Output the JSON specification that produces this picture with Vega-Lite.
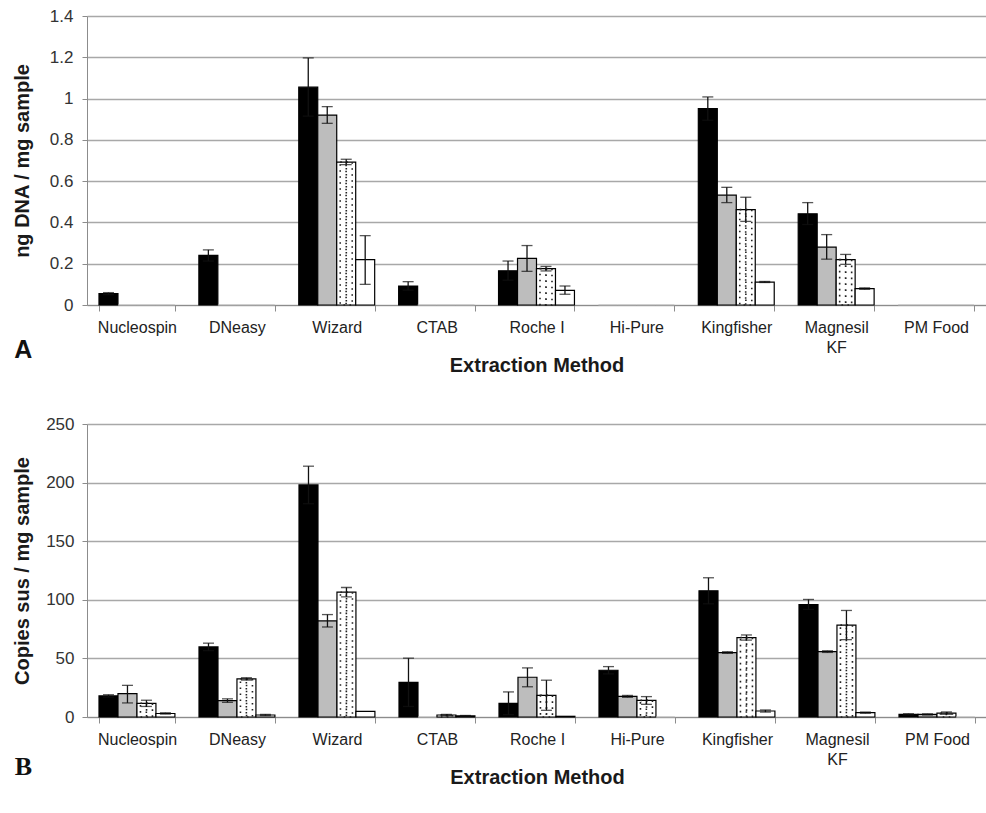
{
  "$schema": "https://vega.github.io/schema/vega-lite/v6.json",
  "padding": {"left": 12, "top": 7, "right": 0, "bottom": 0},
  "columns": 1,
  "spacing": 40,
  "datasets": {
    "a": [
      {"m": "Nucleospin", "s": "1", "v": 0.055, "lo": 0.05, "hi": 0.06},
      {"m": "Nucleospin", "s": "2", "v": 0},
      {"m": "Nucleospin", "s": "3", "v": 0},
      {"m": "Nucleospin", "s": "4", "v": 0},
      {"m": "DNeasy", "s": "1", "v": 0.24, "lo": 0.213, "hi": 0.267},
      {"m": "DNeasy", "s": "2", "v": 0},
      {"m": "DNeasy", "s": "3", "v": 0},
      {"m": "DNeasy", "s": "4", "v": 0},
      {"m": "Wizard", "s": "1", "v": 1.055, "lo": 0.915, "hi": 1.197},
      {"m": "Wizard", "s": "2", "v": 0.92, "lo": 0.88, "hi": 0.961},
      {"m": "Wizard", "s": "3", "v": 0.692, "lo": 0.68, "hi": 0.706},
      {"m": "Wizard", "s": "4", "v": 0.22, "lo": 0.1, "hi": 0.336},
      {"m": "CTAB", "s": "1", "v": 0.092, "lo": 0.072, "hi": 0.113},
      {"m": "CTAB", "s": "2", "v": 0},
      {"m": "CTAB", "s": "3", "v": 0},
      {"m": "CTAB", "s": "4", "v": 0},
      {"m": "Roche I", "s": "1", "v": 0.166, "lo": 0.12, "hi": 0.213},
      {"m": "Roche I", "s": "2", "v": 0.226, "lo": 0.163, "hi": 0.288},
      {"m": "Roche I", "s": "3", "v": 0.176, "lo": 0.165, "hi": 0.187},
      {"m": "Roche I", "s": "4", "v": 0.071, "lo": 0.052, "hi": 0.092},
      {"m": "Hi-Pure", "s": "1", "v": 0},
      {"m": "Hi-Pure", "s": "2", "v": 0},
      {"m": "Hi-Pure", "s": "3", "v": 0},
      {"m": "Hi-Pure", "s": "4", "v": 0},
      {"m": "Kingfisher", "s": "1", "v": 0.951, "lo": 0.895, "hi": 1.008},
      {"m": "Kingfisher", "s": "2", "v": 0.532, "lo": 0.496, "hi": 0.57},
      {"m": "Kingfisher", "s": "3", "v": 0.462, "lo": 0.405, "hi": 0.522},
      {"m": "Kingfisher", "s": "4", "v": 0.111, "lo": 0.109, "hi": 0.114},
      {"m": "Magnesil KF", "s": "1", "v": 0.442, "lo": 0.39, "hi": 0.496},
      {"m": "Magnesil KF", "s": "2", "v": 0.28, "lo": 0.222, "hi": 0.341},
      {"m": "Magnesil KF", "s": "3", "v": 0.22, "lo": 0.197, "hi": 0.245},
      {"m": "Magnesil KF", "s": "4", "v": 0.079, "lo": 0.076, "hi": 0.083},
      {"m": "PM Food", "s": "1", "v": 0},
      {"m": "PM Food", "s": "2", "v": 0},
      {"m": "PM Food", "s": "3", "v": 0},
      {"m": "PM Food", "s": "4", "v": 0}
    ],
    "b": [
      {"m": "Nucleospin", "s": "1", "v": 18, "lo": 17, "hi": 19},
      {"m": "Nucleospin", "s": "2", "v": 20, "lo": 12, "hi": 27},
      {"m": "Nucleospin", "s": "3", "v": 11.7, "lo": 9, "hi": 14.3},
      {"m": "Nucleospin", "s": "4", "v": 3, "lo": 2.5, "hi": 3.6},
      {"m": "DNeasy", "s": "1", "v": 59.8, "lo": 56.6, "hi": 63},
      {"m": "DNeasy", "s": "2", "v": 14, "lo": 12.5, "hi": 15.5},
      {"m": "DNeasy", "s": "3", "v": 32.5, "lo": 31.5, "hi": 33.5},
      {"m": "DNeasy", "s": "4", "v": 1.7, "lo": 1.2, "hi": 2.2},
      {"m": "Wizard", "s": "1", "v": 198, "lo": 182, "hi": 214},
      {"m": "Wizard", "s": "2", "v": 82, "lo": 76.8, "hi": 87.4},
      {"m": "Wizard", "s": "3", "v": 106.5, "lo": 102.5, "hi": 110.5},
      {"m": "Wizard", "s": "4", "v": 4.8},
      {"m": "CTAB", "s": "1", "v": 29.6, "lo": 9, "hi": 50.2},
      {"m": "CTAB", "s": "2", "v": 0},
      {"m": "CTAB", "s": "3", "v": 1.7, "lo": 1.2, "hi": 2.2},
      {"m": "CTAB", "s": "4", "v": 1, "lo": 0.7, "hi": 1.3},
      {"m": "Roche I", "s": "1", "v": 11.7, "lo": 2, "hi": 21.4},
      {"m": "Roche I", "s": "2", "v": 33.9, "lo": 25.8, "hi": 41.9},
      {"m": "Roche I", "s": "3", "v": 18.5, "lo": 5.7, "hi": 31.4},
      {"m": "Roche I", "s": "4", "v": 0.6},
      {"m": "Hi-Pure", "s": "1", "v": 39.9, "lo": 36.8, "hi": 43},
      {"m": "Hi-Pure", "s": "2", "v": 17.6, "lo": 16.8, "hi": 18.4},
      {"m": "Hi-Pure", "s": "3", "v": 14.2, "lo": 10.8, "hi": 17.4},
      {"m": "Hi-Pure", "s": "4", "v": 0},
      {"m": "Kingfisher", "s": "1", "v": 107.7, "lo": 96.6, "hi": 118.8},
      {"m": "Kingfisher", "s": "2", "v": 55, "lo": 54.3, "hi": 55.7},
      {"m": "Kingfisher", "s": "3", "v": 67.8, "lo": 65.6, "hi": 70},
      {"m": "Kingfisher", "s": "4", "v": 5.1, "lo": 4.2, "hi": 6},
      {"m": "Magnesil KF", "s": "1", "v": 96, "lo": 91.8, "hi": 100.3},
      {"m": "Magnesil KF", "s": "2", "v": 55.8, "lo": 55.1, "hi": 56.5},
      {"m": "Magnesil KF", "s": "3", "v": 78.4, "lo": 66, "hi": 90.9},
      {"m": "Magnesil KF", "s": "4", "v": 3.7, "lo": 3.2, "hi": 4.2},
      {"m": "PM Food", "s": "1", "v": 2.3, "lo": 1.8, "hi": 2.8},
      {"m": "PM Food", "s": "2", "v": 2.2, "lo": 1.7, "hi": 2.7},
      {"m": "PM Food", "s": "3", "v": 3.3, "lo": 2.3, "hi": 4.3},
      {"m": "PM Food", "s": "4", "v": 0}
    ]
  },
  "concat": [
    {
      "width": 899,
      "height": 289,
      "data": {"name": "a"},
      "title": {"text": "A", "orient": "bottom", "anchor": "start", "frame": "bounds", "font": "Liberation Sans", "fontSize": 25, "fontWeight": "bold", "color": "#111", "offset": 0, "dy": -37, "dx": 2},
      "encoding": {
        "x": {"field": "m", "type": "nominal", "sort": ["Nucleospin", "DNeasy", "Wizard", "CTAB", "Roche I", "Hi-Pure", "Kingfisher", "Magnesil KF", "PM Food"], "scale": {"paddingInner": 0.24, "paddingOuter": 0.12}, "title": "Extraction Method"},
        "xOffset": {"field": "s", "type": "nominal", "sort": ["1", "2", "3", "4"]}
      },
      "layer": [
        {
          "mark": {"type": "bar", "strokeWidth": 1.2},
          "encoding": {
            "y": {"field": "v", "type": "quantitative", "title": "ng DNA / mg sample", "scale": {"domain": [0, 1.4], "nice": false}, "axis": {"values": [0, 0.2, 0.4, 0.6, 0.8, 1, 1.2, 1.4], "format": "~g", "titlePadding": 17, "labelPadding": 9}},
            "fill": {"field": "s", "type": "nominal", "scale": {"domain": ["1", "2", "3", "4"], "range": ["#000000", "#bdbdbd", "#ffffff", "#ffffff"]}, "legend": null},
            "stroke": {"condition": {"test": "datum.v == 0", "value": "#b5b5b5"}, "value": "#000000"}
          }
        },
        {
          "transform": [{"filter": "datum.s == '3' && datum.v > 0"}],
          "mark": {"type": "bar", "fill": null, "stroke": "#222", "strokeWidth": 1.6, "strokeDash": [1.6, 4.4], "width": 12},
          "encoding": {"y": {"field": "v", "type": "quantitative", "title": "ng DNA / mg sample"}}
        },
        {
          "transform": [{"filter": "datum.s == '3' && datum.v > 0"}],
          "mark": {"type": "bar", "fill": null, "stroke": "#222", "strokeWidth": 1.6, "strokeDash": [1.6, 4.4], "width": 0.2},
          "encoding": {"y": {"field": "v", "type": "quantitative", "title": "ng DNA / mg sample"}}
        },
        {
          "transform": [{"filter": "isValid(datum.lo)"}],
          "mark": {"type": "rule", "color": "#111", "strokeWidth": 1.3},
          "encoding": {"y": {"field": "lo", "type": "quantitative", "title": "ng DNA / mg sample"}, "y2": {"field": "hi"}}
        },
        {
          "transform": [{"filter": "isValid(datum.lo)"}],
          "mark": {"type": "tick", "color": "#111", "thickness": 1.3, "size": 11},
          "encoding": {"y": {"field": "hi", "type": "quantitative", "title": "ng DNA / mg sample"}}
        },
        {
          "transform": [{"filter": "isValid(datum.lo)"}],
          "mark": {"type": "tick", "color": "#111", "thickness": 1.3, "size": 11},
          "encoding": {"y": {"field": "lo", "type": "quantitative", "title": "ng DNA / mg sample"}}
        }
      ]
    },
    {
      "width": 900,
      "height": 293,
      "data": {"name": "b"},
      "title": {"text": "B", "orient": "bottom", "anchor": "start", "frame": "bounds", "font": "Liberation Serif", "fontSize": 26, "fontWeight": "bold", "color": "#111", "offset": 0, "dy": -33, "dx": 2},
      "encoding": {
        "x": {"field": "m", "type": "nominal", "sort": ["Nucleospin", "DNeasy", "Wizard", "CTAB", "Roche I", "Hi-Pure", "Kingfisher", "Magnesil KF", "PM Food"], "scale": {"paddingInner": 0.24, "paddingOuter": 0.12}, "title": "Extraction Method"},
        "xOffset": {"field": "s", "type": "nominal", "sort": ["1", "2", "3", "4"]}
      },
      "layer": [
        {
          "mark": {"type": "bar", "strokeWidth": 1.2},
          "encoding": {
            "y": {"field": "v", "type": "quantitative", "title": "Copies sus / mg sample", "scale": {"domain": [0, 250], "nice": false}, "axis": {"values": [0, 50, 100, 150, 200, 250], "titlePadding": 13, "labelPadding": 8}},
            "fill": {"field": "s", "type": "nominal", "scale": {"domain": ["1", "2", "3", "4"], "range": ["#000000", "#bdbdbd", "#ffffff", "#ffffff"]}, "legend": null},
            "stroke": {"condition": {"test": "datum.v == 0", "value": "#b5b5b5"}, "value": "#000000"}
          }
        },
        {
          "transform": [{"filter": "datum.s == '3' && datum.v > 0"}],
          "mark": {"type": "bar", "fill": null, "stroke": "#222", "strokeWidth": 1.6, "strokeDash": [1.6, 4.4], "width": 12},
          "encoding": {"y": {"field": "v", "type": "quantitative", "title": "Copies sus / mg sample"}}
        },
        {
          "transform": [{"filter": "datum.s == '3' && datum.v > 0"}],
          "mark": {"type": "bar", "fill": null, "stroke": "#222", "strokeWidth": 1.6, "strokeDash": [1.6, 4.4], "width": 0.2},
          "encoding": {"y": {"field": "v", "type": "quantitative", "title": "Copies sus / mg sample"}}
        },
        {
          "transform": [{"filter": "isValid(datum.lo)"}],
          "mark": {"type": "rule", "color": "#111", "strokeWidth": 1.3},
          "encoding": {"y": {"field": "lo", "type": "quantitative", "title": "Copies sus / mg sample"}, "y2": {"field": "hi"}}
        },
        {
          "transform": [{"filter": "isValid(datum.lo)"}],
          "mark": {"type": "tick", "color": "#111", "thickness": 1.3, "size": 11},
          "encoding": {"y": {"field": "hi", "type": "quantitative", "title": "Copies sus / mg sample"}}
        },
        {
          "transform": [{"filter": "isValid(datum.lo)"}],
          "mark": {"type": "tick", "color": "#111", "thickness": 1.3, "size": 11},
          "encoding": {"y": {"field": "lo", "type": "quantitative", "title": "Copies sus / mg sample"}}
        }
      ]
    }
  ],
  "config": {
    "view": {"stroke": null},
    "font": "Liberation Sans",
    "axis": {
      "domainColor": "#8c8c8c",
      "tickColor": "#8c8c8c",
      "gridColor": "#a8a8a8",
      "labelColor": "#333333",
      "titleColor": "#1a1a1a",
      "titleFont": "Liberation Sans",
      "titleFontWeight": "bold",
      "titleFontSize": 20
    },
    "axisX": {
      "grid": false,
      "labelAngle": 0,
      "labelFont": "Liberation Sans",
      "labelFontSize": 16,
      "labelColor": "#222222",
      "labelLineHeight": 20,
      "labelPadding": 8,
      "tickBand": "extent",
      "tickSize": 6,
      "titlePadding": 0,
      "labelExpr": "datum.value == 'Magnesil KF' ? ['Magnesil', 'KF'] : datum.value"
    },
    "axisY": {
      "grid": true,
      "gridWidth": 1.5,
      "tickSize": 5,
      "labelFont": "Liberation Sans",
      "labelFontSize": 17
    }
  }
}
